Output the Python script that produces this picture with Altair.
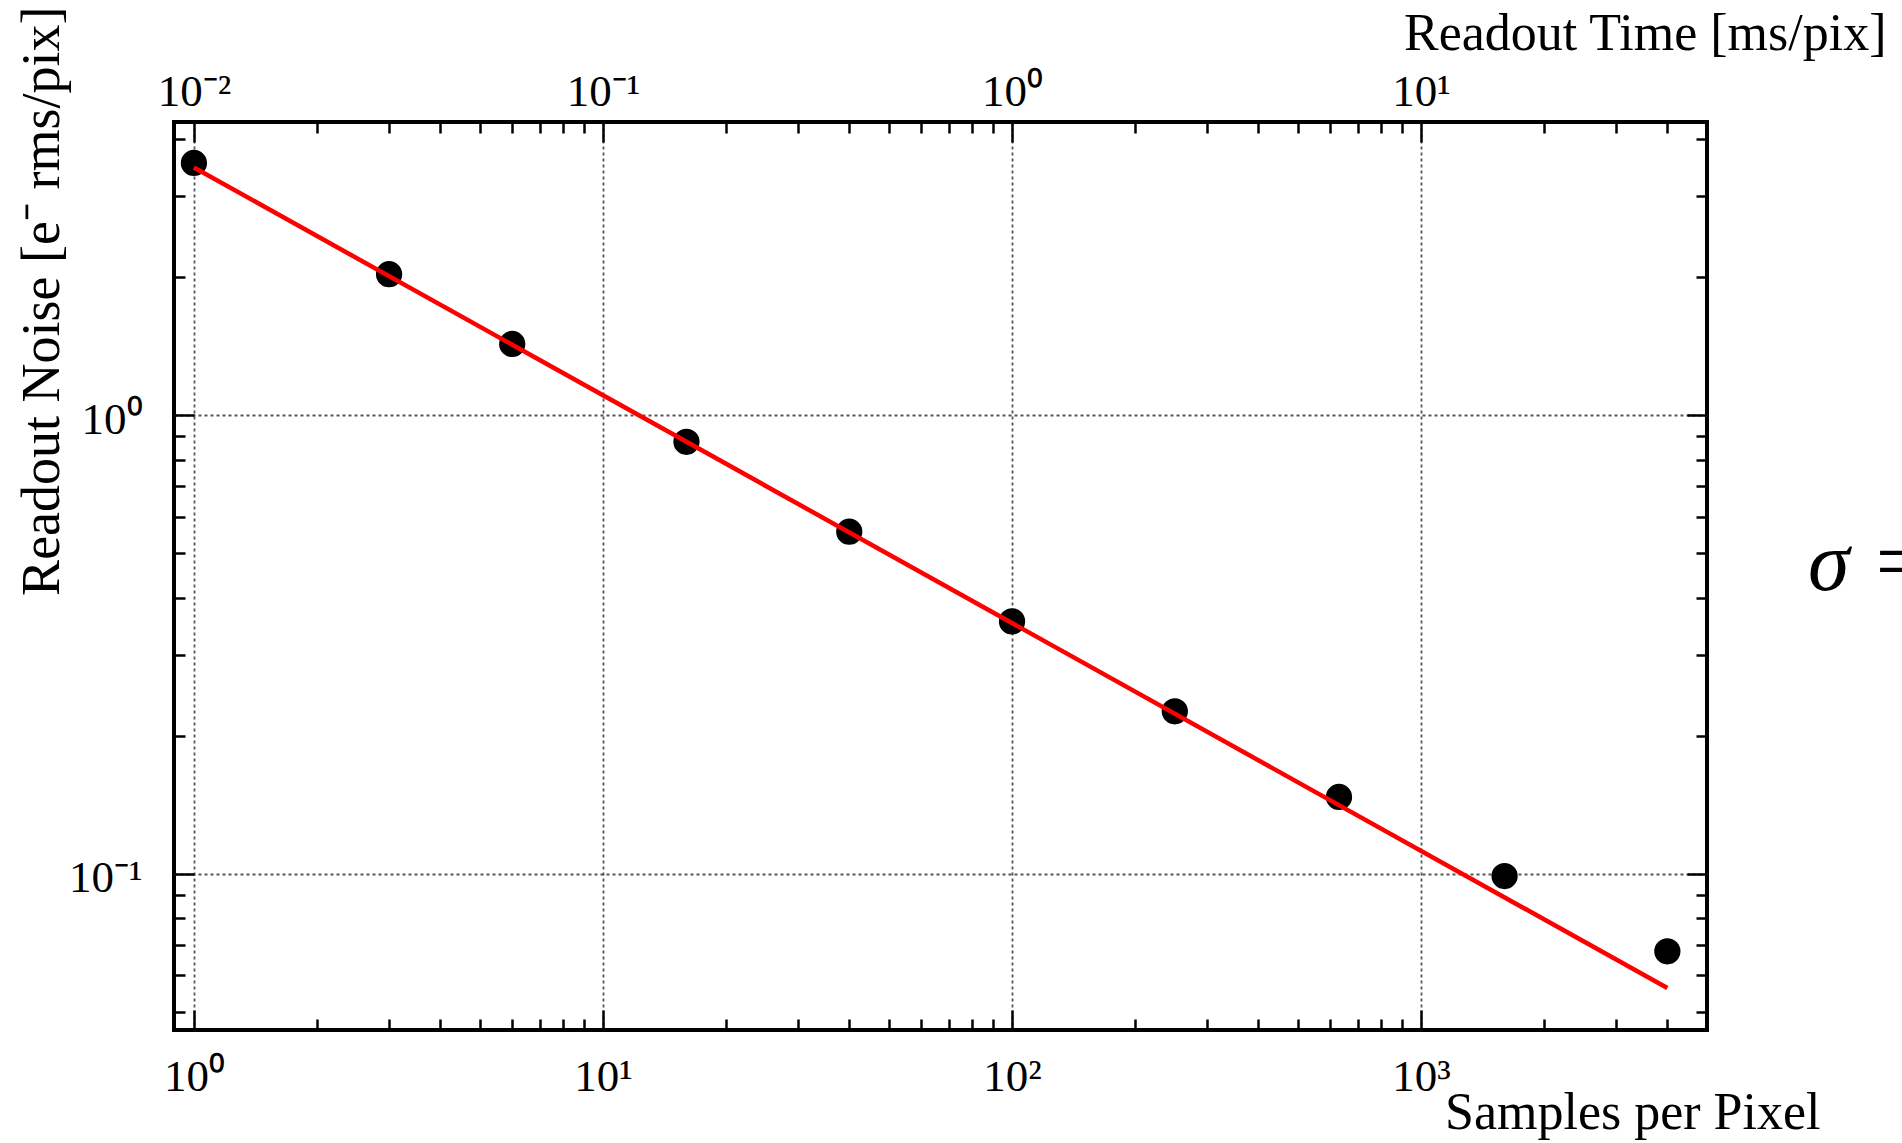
import altair as alt
import pandas as pd

# Measured readout noise versus number of samples per pixel
samples = [1, 3, 6, 16, 40, 100, 250, 630, 1600, 4000]
noise = [3.55, 2.03, 1.43, 0.875, 0.557, 0.355, 0.226, 0.147, 0.0988, 0.0677]

# 1/sqrt(N) fit, drawn between its end points
fit_samples = [1, 4000]
fit_noise = [3.47, 0.0563]

# Axis ticks and labels
x_major = [1, 10, 100, 1000]
x_major_labels = ["10⁰", "10¹", "10²", "10³"]
time_major_labels = ["10⁻²", "10⁻¹", "10⁰", "10¹"]
x_minor = [2, 3, 4, 5, 6, 7, 8, 9,
           20, 30, 40, 50, 60, 70, 80, 90,
           200, 300, 400, 500, 600, 700, 800, 900,
           2000, 3000, 4000]
y_major = [0.1, 1]
y_major_labels = ["10⁻¹", "10⁰"]
y_minor = [0.05, 0.06, 0.07, 0.08, 0.09,
           0.2, 0.3, 0.4, 0.5, 0.6, 0.7, 0.8, 0.9,
           2, 3, 4]

x_domain = [0.894, 5000]
y_domain = [0.0456, 4.36]

FONT = "Liberation Serif"
W, H = 1533, 908
MAJOR, MINOR = 20, 11

points_df = pd.DataFrame({"samples": samples, "noise": noise})
fit_df = pd.DataFrame({"samples": fit_samples, "noise": fit_noise})

x_scale = alt.Scale(type="log", domain=x_domain, nice=False)
y_scale = alt.Scale(type="log", domain=y_domain, nice=False)


def label_expr(values, labels):
    vals = ",".join(repr(v) for v in values)
    labs = ",".join("'" + s + "'" for s in labels)
    return f"[{labs}][indexof([{vals}], datum.value)]"


def tick_axis(orient, values, size):
    # Tick-only axis pushed inside the frame so the ticks point inward
    return alt.Axis(orient=orient, values=values, labels=False, domain=False,
                    grid=False, ticks=True, tickSize=size, tickWidth=2.5,
                    tickColor="black", offset=-size, title=None)


GRID = dict(grid=True, gridDash=[3, 3], gridColor="#555555", gridWidth=1.8)

bottom_labels = alt.Axis(
    orient="bottom", values=x_major, labelExpr=label_expr(x_major, x_major_labels),
    ticks=False, tickSize=0, domain=False, **GRID, labelFont=FONT,
    labelFontSize=45, labelColor="black", labelPadding=24, labelFlush=False,
    labelOverlap=False, labelBound=False, title="Samples per Pixel",
    titleFont=FONT, titleFontSize=52, titleFontWeight="normal",
    titleColor="black", titleAlign="right", titleAnchor="end",
    titleBaseline="alphabetic", titleX=1646, titleY=98)

left_labels = alt.Axis(
    orient="left", values=y_major, labelExpr=label_expr(y_major, y_major_labels),
    ticks=False, tickSize=0, domain=False, **GRID, labelFont=FONT,
    labelFontSize=45, labelColor="black", labelPadding=32, labelFlush=False,
    labelOverlap=False, labelBound=False, labelBaseline="middle", labelOffset=4,
    title="Readout Noise [e⁻ rms/pix]", titleFont=FONT, titleFontSize=54,
    titleFontWeight="normal", titleColor="black", titleAngle=270,
    titleAlign="right", titleAnchor="end", titleBaseline="alphabetic",
    titleX=-116, titleY=-116)

top_labels = alt.Axis(
    orient="top", values=x_major, labelExpr=label_expr(x_major, time_major_labels),
    ticks=False, tickSize=0, domain=False, grid=False, labelFont=FONT,
    labelFontSize=45, labelColor="black", labelPadding=17,
    labelBaseline="alphabetic", labelFlush=False, labelOverlap=False,
    labelBound=False, title="Readout Time [ms/pix]", titleFont=FONT,
    titleFontSize=52, titleFontWeight="normal", titleColor="black",
    titleAlign="right", titleAnchor="end", titleBaseline="alphabetic",
    titleX=1712, titleY=-73)


def enc(xaxis, yaxis):
    return dict(
        x=alt.X("samples:Q", scale=x_scale, axis=xaxis),
        y=alt.Y("noise:Q", scale=y_scale, axis=yaxis),
    )


fit = alt.Chart(fit_df).mark_line(
    color="#ff0000", strokeWidth=4.5
).encode(**enc(tick_axis("bottom", x_major, MAJOR), tick_axis("left", y_major, MAJOR)))

points = alt.Chart(points_df).mark_circle(
    size=690, color="black", opacity=1
).encode(**enc(bottom_labels, left_labels))

hidden = alt.Chart(points_df).mark_circle(size=1, opacity=0)

minor_bl = hidden.encode(**enc(tick_axis("bottom", x_minor, MINOR),
                               tick_axis("left", y_minor, MINOR)))
top_right = hidden.encode(**enc(top_labels, tick_axis("right", y_major, MAJOR)))
top_major = hidden.encode(**enc(tick_axis("top", x_major, MAJOR),
                                tick_axis("right", y_minor, MINOR)))
top_minor = hidden.encode(
    x=alt.X("samples:Q", scale=x_scale, axis=tick_axis("top", x_minor, MINOR)),
    y=alt.Y("noise:Q", scale=y_scale, axis=None),
)

# Start of the formula placed to the right of the plot
formula = alt.Chart(pd.DataFrame({"t": ["σ   ="]})).mark_text(
    font=FONT, fontSize=84, fontStyle="italic", align="left",
    baseline="alphabetic", color="black"
).encode(text="t:N", x=alt.value(1634), y=alt.value(468))

chart = alt.layer(
    points, fit, minor_bl, top_right, top_major, top_minor, formula
).resolve_axis(
    x="independent", y="independent"
).properties(
    width=W, height=H,
    autosize=alt.AutoSizeParams(type="none"),
    padding={"left": 174, "top": 122, "right": 195, "bottom": 113},
    background="white",
).configure_view(
    stroke="black", strokeWidth=4
)

chart.save("out.html", embed_options={"renderer": "svg", "actions": False})
